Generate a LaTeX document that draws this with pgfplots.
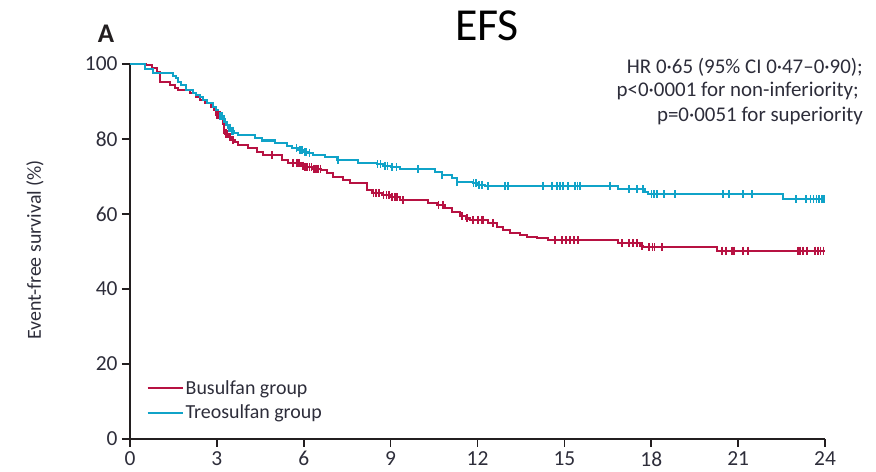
\documentclass[border=0pt]{standalone}
\usepackage{pgfplots}
\pgfplotsset{compat=1.18}
\usepackage{fontspec}
\setmainfont{Carlito}

\definecolor{busred}{RGB}{183,18,66}
\definecolor{treoblue}{RGB}{16,163,200}
\definecolor{axisdark}{RGB}{35,31,32}
\definecolor{txtdark}{RGB}{45,45,58}

\begin{document}
\begin{tikzpicture}
\begin{axis}[
  name=ax,
  scale only axis,
  width=695bp, height=375bp,
  xmin=0, xmax=24, ymin=0, ymax=100,
  axis x line*=bottom, axis y line*=left,
  axis line style={line width=1.6bp, color=axisdark},
  xtick={0,3,...,24}, ytick={0,20,...,100},
  tick align=outside,
  major tick length=8bp,
  tick style={line width=1.6bp, color=axisdark},
  /pgf/number format/assume math mode=true,
  ticklabel style={font=\fontsize{21.5}{24}\selectfont, text=txtdark},
  xticklabel style={yshift=-1bp},
  yticklabel style={xshift=-1bp},
  clip=false,
  legend cell align=left,
  legend style={at={(axis description cs:0.022,0.164)}, anchor=north west,
    draw=none, fill=none, font=\fontsize{20}{23}\selectfont, text=txtdark,
    row sep=5bp, inner sep=1bp},
  legend image code/.code={\draw[#1, line width=2.2bp] (0bp,0bp) -- (35bp,0bp);},
]
% Busulfan group
\addplot[const plot, busred, line width=2.2bp] coordinates {
(0,100) (0.55,99.7) (0.76,98.9) (0.93,97.9) (1.04,95.2) (1.38,94.4)
(1.55,93.6) (1.66,93.1) (2.07,92.3) (2.28,91.2) (2.42,90.4) (2.59,89.6)
(2.80,88.5) (2.90,87.7) (2.97,86.4) (3.14,85.6) (3.21,84.0) (3.25,82.4)
(3.30,81.3) (3.40,80.5) (3.52,79.7) (3.63,79.2) (3.73,78.4) (4.07,77.6)
(4.39,76.5) (4.59,75.7) (5.25,74.4) (5.46,73.6) (5.90,72.9) (6.00,72.5)
(6.30,72.0) (6.60,71.7) (6.80,70.9) (7.01,69.9) (7.35,69.1) (7.60,68.3)
(8.18,66.4) (8.36,65.6) (8.70,65.1) (9.00,64.5) (9.32,63.7) (10.29,62.9)
(10.60,62.4) (10.88,61.6) (11.12,60.5) (11.40,59.5) (11.60,58.8) (11.74,58.4)
(12.36,57.6) (12.67,56.5) (12.88,55.7) (13.12,55.0) (13.47,54.4) (13.71,53.9)
(14.05,53.5) (14.43,53.0) (16.85,52.2) (17.61,51.5) (17.71,51.1) (20.27,50.2)
(24.0,50.2)
};
\addlegendentry{Busulfan group}
% Treosulfan group
\addplot[const plot, treoblue, line width=2.2bp] coordinates {
(0,100) (0.52,98.7) (0.79,97.6) (1.48,96.8) (1.59,96.3) (1.66,95.2)
(1.76,94.4) (1.93,93.1) (2.18,92.3) (2.28,91.7) (2.42,91.2) (2.52,90.4)
(2.66,89.6) (2.87,88.5) (2.97,87.7) (3.04,86.9) (3.14,86.1) (3.21,85.3)
(3.28,84.5) (3.35,83.7) (3.42,83.0) (3.50,82.2) (3.60,81.6) (3.73,81.1)
(4.32,80.3) (4.56,79.6) (5.01,78.9) (5.42,78.1) (5.60,77.6) (5.80,77.1)
(6.00,76.5) (6.15,76.2) (6.32,75.7) (6.73,75.2) (7.15,74.4) (7.87,73.7)
(8.53,73.3) (8.75,72.8) (9.00,72.5) (9.32,71.9) (10.53,71.3) (10.77,70.4)
(11.12,69.6) (11.29,68.6) (11.84,68.2) (12.00,67.8) (12.26,67.5) (16.85,66.6)
(17.78,65.9) (17.90,65.3) (22.55,63.9) (24.0,63.9)
};
\addlegendentry{Treosulfan group}
% censored observations, Busulfan group
\addplot[forget plot, only marks, mark=|, mark size=4bp, busred,
  mark options={line width=1.5bp}] coordinates {
(3.00,86.4) (3.06,86.4) (3.10,86.4) (3.25,82.4) (3.30,81.3) (3.35,81.3)
(3.45,80.5) (3.55,79.7) (4.90,75.7) (5.63,73.6) (5.77,73.6) (5.84,73.6)
(5.97,72.9) (6.05,72.5) (6.12,72.5) (6.20,72.5) (6.27,72.5) (6.35,72.0)
(6.42,72.0) (6.50,72.0) (6.58,72.0) (8.40,65.6) (8.50,65.6) (8.60,65.6)
(8.75,65.1) (8.85,65.1) (8.95,65.1) (9.05,64.5) (9.15,64.5) (9.22,64.5)
(9.43,63.7) (10.65,62.4) (10.80,62.4) (11.46,59.5) (11.63,58.8)
(11.84,58.4) (12.02,58.4) (12.15,58.4) (12.20,58.4) (12.53,57.6)
(14.68,53.0) (14.92,53.0) (15.06,53.0) (15.19,53.0) (15.33,53.0) (15.47,53.0)
(16.99,52.2) (17.23,52.2) (17.37,52.2) (17.51,52.2) (17.68,51.5)
(17.92,51.1) (18.05,51.1) (18.12,51.1) (18.37,51.1)
(20.44,50.2) (20.58,50.2) (20.79,50.2) (20.86,50.2) (21.17,50.2) (21.34,50.2)
(23.07,50.2) (23.14,50.2) (23.24,50.2) (23.38,50.2) (23.65,50.2) (23.75,50.2)
(23.85,50.2) (23.95,50.2)
};
% censored observations, Treosulfan group
\addplot[forget plot, only marks, mark=|, mark size=4bp, treoblue,
  mark options={line width=1.5bp}] coordinates {
(3.10,86.1) (3.18,86.1) (3.25,85.3) (3.30,84.5) (3.37,83.7) (3.42,83.0)
(3.47,83.0) (3.52,82.2) (3.57,82.2) (5.75,77.6) (5.85,77.1) (5.90,77.1)
(5.95,77.1) (6.05,76.5) (6.10,76.5) (6.20,76.2) (7.18,74.4)
(8.55,73.3) (8.65,73.3) (8.80,72.8) (8.90,72.8) (9.05,72.5) (9.20,72.5)
(9.94,71.9) (10.77,70.4) (11.29,68.6) (11.86,68.2) (11.95,68.2) (12.05,67.8)
(12.15,67.8) (12.36,67.5) (12.95,67.5) (13.05,67.5) (14.26,67.5) (14.57,67.5)
(14.74,67.5) (14.85,67.5) (14.95,67.5) (15.12,67.5) (15.37,67.5) (15.45,67.5)
(15.54,67.5) (16.57,67.5) (17.23,66.6) (17.51,66.6) (17.71,66.6)
(18.00,65.3) (18.10,65.3) (18.20,65.3) (18.44,65.3) (18.82,65.3) (20.48,65.3)
(20.68,65.3) (21.17,65.3) (21.48,65.3) (23.00,63.9) (23.34,63.9) (23.50,63.9)
(23.60,63.9) (23.70,63.9) (23.80,63.9) (23.90,63.9) (23.97,63.9)
};
\end{axis}
% page frame
\path (ax.south west) ++(-130bp,-33bp) rectangle ++(876bp,472bp);
% titles and annotations
\node[shift={(357bp,413bp)}, font=\fontsize{46}{50}\selectfont, text=black] at (ax.south west) {EFS};
\node[shift={(-24bp,405bp)}, font=\fontsize{27}{30}\selectfont\bfseries, text=axisdark] at (ax.south west) {A};
\node[shift={(733bp,365.7bp)}, anchor=base east, inner sep=0pt, font=\fontsize{21}{24}\selectfont, text=txtdark] at (ax.south west) {HR 0·65 (95\% CI 0·47–0·90);};
\node[shift={(729bp,342.3bp)}, anchor=base east, inner sep=0pt, font=\fontsize{21}{24}\selectfont, text=txtdark] at (ax.south west) {p<0·0001 for non-inferiority;};
\node[shift={(733bp,317.3bp)}, anchor=base east, inner sep=0pt, font=\fontsize{21}{24}\selectfont, text=txtdark] at (ax.south west) {p=0·0051 for superiority};
\node[shift={(-95bp,189bp)}, rotate=90, font=\fontsize{20}{23}\selectfont, text=txtdark] at (ax.south west) {Event-free survival (\%)};
\end{tikzpicture}
\end{document}
